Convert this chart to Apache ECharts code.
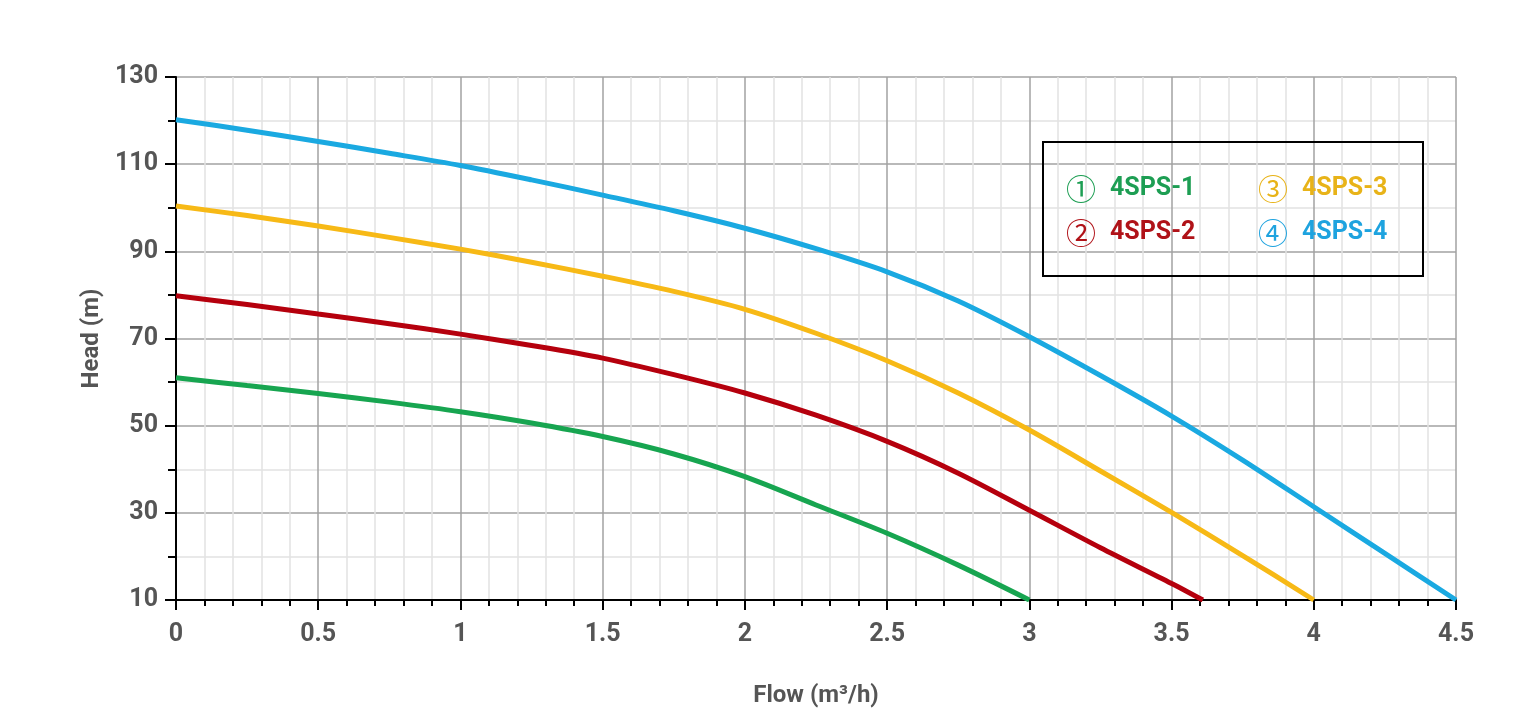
<!DOCTYPE html>
<html>
<head>
<meta charset="utf-8">
<script src="https://cdn.jsdelivr.net/npm/echarts@6/dist/echarts.min.js"></script>
<style>
  html, body { margin: 0; padding: 0; background: #fff; }
  #chart { width: 1522px; height: 713px; }
</style>
</head>
<body>
<div id="chart"></div>
<script>
// flow (m3/h) vs head (m)
const names = ['4SPS-1', '4SPS-2', '4SPS-3', '4SPS-4'];
const marks = ['①', '②', '③', '④'];
const lineColors = ['#17a550', '#b5000d', '#f7b916', '#1aa9e1'];
const textColors = ['#1d9e53', '#b01218', '#e8b318', '#1ea3df'];

const pump1 = [[0, 61], [0.25, 59.2], [0.5, 57.4], [0.75, 55.4], [1, 53.2], [1.25, 50.6], [1.5, 47.5],
  [1.75, 43.5], [2, 38.3], [2.25, 31.8], [2.5, 25.3], [2.75, 18], [3, 10]];
const pump2 = [[0, 79.8], [0.25, 77.8], [0.5, 75.6], [0.75, 73.4], [1, 71], [1.25, 68.4], [1.5, 65.5],
  [1.75, 61.7], [2, 57.5], [2.25, 52.4], [2.5, 46.4], [2.75, 39.1], [3, 30.6], [3.25, 22],
  [3.5, 13.8], [3.61, 10]];
const pump3 = [[0, 100.4], [0.25, 98.2], [0.5, 95.8], [0.75, 93.2], [1, 90.5], [1.25, 87.5], [1.5, 84.3],
  [1.75, 80.8], [2, 76.7], [2.25, 71.2], [2.5, 64.9], [2.75, 57.5], [3, 49], [3.25, 39.6],
  [3.5, 30.1], [3.75, 20.2], [4, 10]];
const pump4 = [[0, 120.2], [0.25, 117.8], [0.5, 115.2], [0.75, 112.5], [1, 109.7], [1.25, 106.4],
  [1.5, 102.9], [1.75, 99.3], [2, 95.3], [2.25, 90.6], [2.5, 85.3], [2.75, 78.6], [3, 70.4],
  [3.25, 61.5], [3.5, 52.2], [3.75, 42.1], [4, 31.4], [4.25, 20.7], [4.5, 10]];
const curves = [pump1, pump2, pump3, pump4];

const font = '"Liberation Sans Narrow", "Arial Narrow", "Roboto", sans-serif';
const labelStyle = { color: '#555', fontSize: 25, fontWeight: 'bold', fontFamily: font };

const chart = echarts.init(document.getElementById('chart'));

// one legend per column so the two columns sit where the reference has them
const legendColumn = (left, idx) => ({
  orient: 'vertical',
  left: left,
  top: 174,
  padding: 0,
  itemGap: 14,
  itemWidth: 0,
  itemHeight: 24,
  icon: 'none',
  selectedMode: false,
  data: idx.map((i) => ({
    name: names[i],
    textStyle: {
      rich: {
        n: { width: 44, fontSize: 30, color: textColors[i], fontFamily: '"Noto Sans CJK SC", sans-serif' },
        t: { fontSize: 25, fontWeight: 'bold', color: textColors[i], fontFamily: font }
      }
    }
  })),
  formatter: (n) => '{n|' + marks[names.indexOf(n)] + '}{t|' + n + '}'
});

chart.setOption({
  backgroundColor: '#fff',
  animation: false,
  grid: { left: 176, right: 66, top: 77, bottom: 113 },
  xAxis: {
    type: 'value',
    min: 0,
    max: 4.5,
    interval: 0.5,
    name: 'Flow (m³/h)',
    nameLocation: 'middle',
    nameGap: 84,
    nameTextStyle: { color: '#555', fontSize: 24, fontWeight: 'bold', fontFamily: font },
    axisLine: { lineStyle: { color: '#000', width: 2 } },
    axisTick: { length: 10, lineStyle: { color: '#000', width: 2 } },
    minorTick: { show: true, splitNumber: 5, length: 6, lineStyle: { color: '#000', width: 2 } },
    axisLabel: Object.assign({ margin: 22 }, labelStyle),
    splitLine: { lineStyle: { color: '#a2a2a2', width: 1.5 } },
    minorSplitLine: { show: true, lineStyle: { color: '#e2e2e2', width: 1.5 } }
  },
  yAxis: {
    type: 'value',
    min: 10,
    max: 130,
    interval: 20,
    name: 'Head (m)',
    nameLocation: 'middle',
    nameGap: 68,
    nameTextStyle: { color: '#555', fontSize: 24, fontWeight: 'bold', fontFamily: font },
    axisLine: { show: true, lineStyle: { color: '#000', width: 2 } },
    axisTick: { show: true, length: 11, lineStyle: { color: '#000', width: 2 } },
    minorTick: { show: true, splitNumber: 2, length: 8, lineStyle: { color: '#000', width: 2 } },
    axisLabel: Object.assign({ margin: 18 }, labelStyle),
    splitLine: { lineStyle: { color: '#a2a2a2', width: 1.5 } },
    minorSplitLine: { show: true, lineStyle: { color: '#e2e2e2', width: 1.5 } }
  },
  legend: [legendColumn(1061, [0, 1]), legendColumn(1253, [2, 3])],
  graphic: [{
    type: 'rect',
    shape: { x: 1043, y: 142, width: 380, height: 134 },
    style: { fill: 'none', stroke: '#000', lineWidth: 2 },
    z: 10
  }],
  series: curves.map((d, i) => ({
    name: names[i],
    type: 'line',
    data: d,
    smooth: 0.3,
    showSymbol: false,
    lineStyle: { color: lineColors[i], width: 5 },
    itemStyle: { color: lineColors[i] }
  }))
});

window.addEventListener('resize', () => chart.resize());
</script>
</body>
</html>
